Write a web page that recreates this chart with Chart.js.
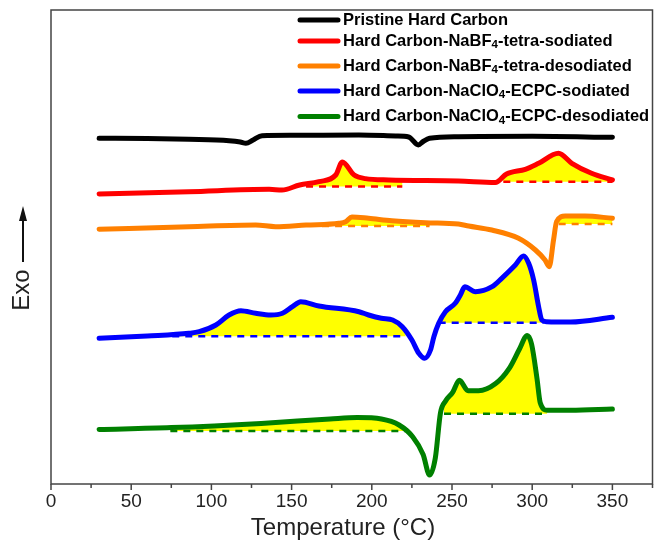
<!DOCTYPE html>
<html>
<head>
<meta charset="utf-8">
<script src="https://cdn.jsdelivr.net/npm/chart.js@4.4.1/dist/chart.umd.min.js"></script>
<style>
  html, body { margin: 0; padding: 0; background: #fff; }
  #wrap { width: 656px; height: 546px; position: relative; }
</style>
</head>
<body>
<div id="wrap"><canvas id="dsc"></canvas></div>
<script>
// DSC curves, temperature in °C, heat flow in arbitrary units (curves offset)
const blackT = [30, 60, 86, 111, 118, 121.5, 126, 131.6, 150, 192, 215, 223, 229, 232, 236, 254, 300, 350]
const blackY = [345.7, 345.5, 344.7, 343.3, 342, 340.7, 344, 348.3, 348.7, 349, 348, 347, 339, 342.5, 345.7, 347.3, 347.7, 346.7]

const redT = [30, 86, 136, 144, 155, 167, 177.5, 181.6, 189, 196, 210.6, 254, 277, 284, 295.7, 304, 316.4, 324.7, 337, 350]
const redY = [290, 292.3, 294.7, 294, 299, 302.3, 309, 322, 309, 305.4, 304, 303, 301.5, 310, 314.7, 320.7, 330.7, 320.7, 310.7, 304]

const orangeT = [30, 86, 127.6, 140, 159, 179.5, 183.7, 187.6, 198, 212.5, 233.5, 254, 260.4, 274.8, 291.5, 302, 308, 310.6, 313.3, 315.2, 320.6, 333, 350]
const orangeY = [254.7, 257.3, 259, 257.3, 259, 260.7, 262.3, 267, 265.7, 263.3, 261.3, 260, 258, 254, 245.7, 234, 224, 217.3, 244, 262.3, 268, 268, 265.7]

const blueT = [30, 60, 86, 92.4, 102.8, 111, 118.4, 127.6, 137, 144.3, 150.5, 155.7, 167, 192, 198, 206, 213, 219, 225, 229.3, 233, 236.6, 238.7, 241.7, 245.9, 252, 255.2, 258, 264.6, 275, 281, 289.5, 294.6, 297.8, 300.9, 304, 306, 309, 324, 350]
const blueY = [145.7, 148, 150.7, 152.3, 159, 169, 173.3, 170.7, 169, 170.7, 177.3, 182.3, 178, 172.3, 169, 165.7, 164, 157.3, 144, 130.7, 125.7, 134, 147.3, 160.7, 172.3, 180.7, 189, 197.3, 192.3, 197.3, 205.7, 219, 228, 220.7, 204, 177.3, 164, 162.3, 162, 166.7]

const greenT = [30, 75, 131, 174, 191, 206, 217, 225.6, 232, 236, 239.6, 242.8, 246, 250.4, 254.6, 260, 266.5, 277, 285.7, 292, 296.9, 299.6, 303, 305, 309.4, 324, 350]
const greenY = [54.5, 56.4, 60.6, 65, 66.4, 65, 59, 47, 29.5, 9, 26, 71, 83, 91.6, 103.7, 93.3, 93.3, 100.2, 115.7, 134.7, 148.5, 140, 105.4, 81.2, 73.7, 73.7, 75]

// integration baselines: [start T, end T, level]
const redBase = [[159, 219, 297.5], [282, 350, 302.3]]
const orangeBase = [[169, 236, 258], [316.5, 350, 260]]
const blueBase = [[75.6, 221, 147.7], [241.7, 307, 161.3]]
const greenBase = [[74.4, 221, 53], [245, 309.4, 70.2]]

const xTicks = [0, 50, 100, 150, 200, 250, 300, 350]

const legendText = [
  ['Pristine Hard Carbon'],
  ['Hard Carbon-NaBF', '4', '-tetra-sodiated'],
  ['Hard Carbon-NaBF', '4', '-tetra-desodiated'],
  ['Hard Carbon-NaClO', '4', '-ECPC-sodiated'],
  ['Hard Carbon-NaClO', '4', '-ECPC-desodiated']
]

const FONT = '"Liberation Sans", Arial, sans-serif'
const YELLOW = '#ffff00'

const series = [
  {T: blackT, Y: blackY, color: '#000000', bases: []},
  {T: redT, Y: redY, color: '#ff0000', bases: redBase},
  {T: orangeT, Y: orangeY, color: '#ff8000', bases: orangeBase},
  {T: blueT, Y: blueY, color: '#0000ff', bases: blueBase},
  {T: greenT, Y: greenY, color: '#008000', bases: greenBase}
]

function pts(T, Y) {
  return T.map((t, i) => ({x: t, y: Y[i]}))
}

const datasets = []
series.forEach((s, i) => {
  datasets.push({
    label: legendText[i].join(''),
    data: pts(s.T, s.Y),
    borderColor: s.color,
    borderWidth: 5,
    borderCapStyle: 'round',
    borderJoinStyle: 'round',
    pointRadius: 0,
    cubicInterpolationMode: 'monotone',
    fill: false,
    order: 1
  })
})
series.forEach(s => {
  s.bases.forEach(b => {
    const bi = datasets.length
    // dashed baseline
    datasets.push({
      label: '',
      data: [{x: b[0], y: b[2]}, {x: b[1], y: b[2]}],
      borderColor: s.color,
      borderWidth: 2.5,
      borderDash: [7, 6],
      pointRadius: 0,
      fill: false,
      order: 2
    })
    // yellow area between curve and baseline
    datasets.push({
      label: '',
      data: pts(s.T, s.Y),
      borderColor: 'rgba(0,0,0,0)',
      borderWidth: 0,
      pointRadius: 0,
      cubicInterpolationMode: 'monotone',
      fill: {target: bi, above: YELLOW, below: YELLOW},
      order: 3
    })
  })
})

const decor = {
  id: 'decor',
  afterDraw(chart) {
    const ctx = chart.ctx
    const a = chart.chartArea
    const xs = chart.scales.x
    ctx.save()
    // frame
    ctx.strokeStyle = '#444'
    ctx.lineWidth = 1.5
    ctx.strokeRect(a.left, a.top, a.right - a.left, a.bottom - a.top)
    // tick marks, minor every 25
    for (let t = 0; t <= 375; t += 25) {
      const px = xs.getPixelForValue(t)
      ctx.beginPath()
      ctx.moveTo(px, a.bottom)
      ctx.lineTo(px, a.bottom + (t % 50 === 0 ? 6 : 4))
      ctx.stroke()
    }
    // x title
    ctx.fillStyle = '#222'
    ctx.font = '24px ' + FONT
    ctx.textAlign = 'center'
    ctx.textBaseline = 'middle'
    ctx.fillText('Temperature (°C)', 343, 528)
    // Exo with arrow
    ctx.save()
    ctx.translate(22, 290)
    ctx.rotate(-Math.PI / 2)
    ctx.fillText('Exo', 0, 0)
    ctx.restore()
    ctx.strokeStyle = '#111'
    ctx.lineWidth = 2
    ctx.beginPath()
    ctx.moveTo(23, 262)
    ctx.lineTo(23, 218)
    ctx.stroke()
    ctx.fillStyle = '#111'
    ctx.beginPath()
    ctx.moveTo(23, 206)
    ctx.lineTo(19, 221)
    ctx.lineTo(27, 221)
    ctx.closePath()
    ctx.fill()
    // legend
    const rows = [20, 41, 66, 91, 116.5]
    ctx.textAlign = 'left'
    ctx.textBaseline = 'middle'
    legendText.forEach((parts, i) => {
      const y = rows[i]
      ctx.strokeStyle = series[i].color
      ctx.lineWidth = 5
      ctx.lineCap = 'round'
      ctx.beginPath()
      ctx.moveTo(300, y)
      ctx.lineTo(338, y)
      ctx.stroke()
      ctx.fillStyle = '#000'
      let x = 343
      parts.forEach((p, j) => {
        const sub = j === 1
        ctx.font = (sub ? 'bold 11.5px ' : 'bold 16.5px ') + FONT
        ctx.fillText(p, x, sub ? y + 4 : y)
        x += ctx.measureText(p).width
      })
    })
    ctx.restore()
  }
}

Chart.defaults.font.family = FONT

new Chart(document.getElementById('dsc'), {
  type: 'line',
  data: {datasets: datasets},
  options: {
    responsive: true,
    maintainAspectRatio: false,
    animation: false,
    devicePixelRatio: 1,
    layout: {padding: {left: 51, top: 10, right: 3.5, bottom: 0}},
    plugins: {
      legend: {display: false},
      tooltip: {enabled: false}
    },
    scales: {
      x: {
        type: 'linear',
        min: 0,
        max: 375,
        grid: {display: false, drawTicks: false},
        border: {display: false},
        ticks: {
          stepSize: 25,
          autoSkip: false,
          maxRotation: 0,
          padding: 6,
          color: '#222',
          font: {size: 19},
          callback: v => xTicks.includes(v) ? String(v) : ''
        },
        afterFit: s => {
          s.height = 62
          s.paddingLeft = 0
          s.paddingRight = 0
        }
      },
      y: {
        display: false,
        min: 0,
        max: 474
      }
    }
  },
  plugins: [decor]
})
</script>
</body>
</html>
